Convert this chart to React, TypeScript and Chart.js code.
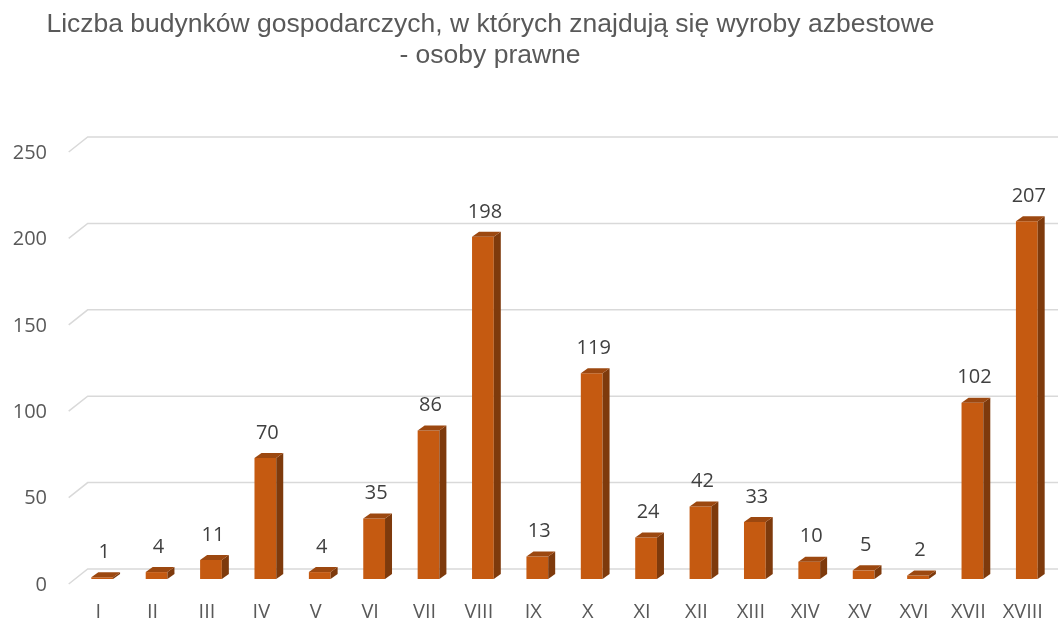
import React, { useEffect, useRef } from "react";
import { Chart, registerables } from "chart.js";

Chart.register(...registerables);

const titleLines = [
  "Liczba budynków gospodarczych, w których znajdują się wyroby azbestowe",
  "- osoby prawne",
];
const categories = [
  "I", "II", "III", "IV", "V", "VI", "VII", "VIII", "IX",
  "X", "XI", "XII", "XIII", "XIV", "XV", "XVI", "XVII", "XVIII",
];
const buildingCounts = [1, 4, 11, 70, 4, 35, 86, 198, 13, 119, 24, 42, 33, 10, 5, 2, 102, 207];
const yTicks = [0, 50, 100, 150, 200, 250];

const FRONT = "#C55A11";
const SIDE = "#7E3A0C";
const TOP = "#9C4810";
const GRID = "#D9D9D9";
const TEXT = "#595959";
const LABEL = "#404040";
const NUM_FONT = "20px 'Open Sans', 'Noto Sans', sans-serif";

// depth offsets (px)
const BAR_DX = 7;
const BAR_DY = -5;
const WALL_DX = 12.7;
const WALL_DY = -10;
const FLOOR_DX = -6.3;
const FLOOR_DY = 5;

const threeD = {
  id: "threeD",
  beforeDatasetsDraw(chart: any) {
    const ctx = chart.ctx;
    const y = chart.scales.y;
    const area = chart.chartArea;
    ctx.save();
    ctx.strokeStyle = GRID;
    ctx.lineWidth = 1.5;
    for (const t of yTicks) {
      const py = y.getPixelForValue(t);
      ctx.beginPath();
      ctx.moveTo(area.left + FLOOR_DX, py + FLOOR_DY);
      ctx.lineTo(area.left + WALL_DX, py + WALL_DY);
      ctx.lineTo(chart.width + 2, py + WALL_DY);
      ctx.stroke();
    }
    ctx.fillStyle = TEXT;
    ctx.font = NUM_FONT;
    ctx.textAlign = "right";
    ctx.textBaseline = "middle";
    for (const t of yTicks) {
      const py = y.getPixelForValue(t);
      ctx.fillText(String(t), 47, py + 6);
    }
    // title
    ctx.font = "26.5px 'Liberation Sans', Arial, sans-serif";
    ctx.textAlign = "center";
    ctx.textBaseline = "alphabetic";
    ctx.fillText(titleLines[0], 490.5, 32);
    ctx.fillText(titleLines[1], 490, 63);
    ctx.restore();
  },
  afterDatasetsDraw(chart: any) {
    const ctx = chart.ctx;
    const meta = chart.getDatasetMeta(0);
    ctx.save();
    meta.data.forEach((bar: any, i: number) => {
      const { x, y, base, width } = bar.getProps(["x", "y", "base", "width"], true);
      const l = x - width / 2;
      const r = x + width / 2;
      // side
      ctx.fillStyle = SIDE;
      ctx.beginPath();
      ctx.moveTo(r, y);
      ctx.lineTo(r + BAR_DX, y + BAR_DY);
      ctx.lineTo(r + BAR_DX, base + BAR_DY);
      ctx.lineTo(r, base);
      ctx.closePath();
      ctx.fill();
      // top
      ctx.fillStyle = TOP;
      ctx.beginPath();
      ctx.moveTo(l, y);
      ctx.lineTo(l + BAR_DX, y + BAR_DY);
      ctx.lineTo(r + BAR_DX, y + BAR_DY);
      ctx.lineTo(r, y);
      ctx.closePath();
      ctx.fill();
      // data label
      ctx.fillStyle = LABEL;
      ctx.font = NUM_FONT;
      ctx.textAlign = "center";
      ctx.textBaseline = "middle";
      ctx.fillText(String(buildingCounts[i]), x + 2, y - 25);
      // category label
      ctx.fillStyle = TEXT;
      ctx.fillText(categories[i], x - 4, 612);
    });
    ctx.restore();
  },
};

export default function App() {
  const ref = useRef<HTMLCanvasElement | null>(null);
  useEffect(() => {
    if (!ref.current) return;
    const chart = new Chart(ref.current, {
      type: "bar",
      data: {
        labels: categories,
        datasets: [
          {
            data: buildingCounts,
            backgroundColor: FRONT,
            borderWidth: 0,
            barPercentage: 0.4,
            categoryPercentage: 1,
          },
        ],
      },
      options: {
        responsive: false,
        animation: false,
        devicePixelRatio: 1,
        layout: { padding: { left: 75, right: 4, top: 147, bottom: 43 } },
        plugins: { legend: { display: false }, tooltip: { enabled: false }, title: { display: false } },
        scales: {
          x: { display: false },
          y: { display: false, min: 0, max: 250 },
        },
      },
      plugins: [threeD],
    });
    return () => chart.destroy();
  }, []);
  return (
    <div style={{ position: "fixed", left: 0, top: 0, width: 1058, height: 622, background: "#fff" }}>
      <canvas ref={ref} width={1058} height={622} />
    </div>
  );
}
